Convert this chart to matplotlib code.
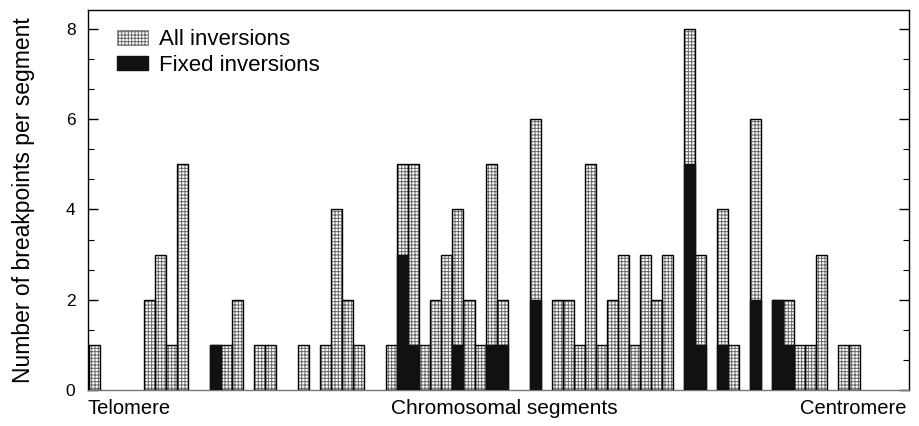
import matplotlib
matplotlib.use("Agg")
import matplotlib.pyplot as plt
from matplotlib.patches import Patch
from matplotlib.ticker import MultipleLocator

plt.rcParams['font.family'] = ['Liberation Sans', 'DejaVu Sans']
plt.rcParams['hatch.linewidth'] = 0.7

# segment index along the chromosome (telomere -> centromere)
segments = [0, 5, 6, 7, 8, 11, 12, 13, 15, 16, 19, 21, 22, 23, 24,
            27, 28, 29, 30, 31, 32, 33, 34, 35, 36, 37, 40,
            42, 43, 44, 45, 46, 47, 48, 49, 50, 51, 52,
            54, 55, 57, 58, 60, 62, 63, 64, 65, 66, 68, 69]
all_inv = [1, 2, 3, 1, 5, 1, 1, 2, 1, 1, 1, 1, 4, 2, 1,
           1, 5, 5, 1, 2, 3, 4, 2, 1, 5, 2, 6,
           2, 2, 1, 5, 1, 2, 3, 1, 3, 2, 3,
           8, 3, 4, 1, 6, 2, 2, 1, 1, 3, 1, 1]
fixed_inv = [0, 0, 0, 0, 0, 1, 0, 0, 0, 0, 0, 0, 0, 0, 0,
             0, 3, 1, 0, 0, 0, 1, 0, 0, 1, 1, 2,
             0, 0, 0, 0, 0, 0, 0, 0, 0, 0, 0,
             5, 1, 1, 0, 2, 2, 1, 0, 0, 0, 0, 0]

fig = plt.figure(figsize=(9.2, 4.26), dpi=100)
ax = fig.add_axes([88/920, 36/426, 821/920, 380/426])

hatch = '+++++'
hatch_col = '#6a6a6a'
# hatched "all inversions" bars
ax.bar(segments, all_inv, width=1.0, facecolor='white', edgecolor=hatch_col,
       hatch=hatch, linewidth=0, zorder=2)
ax.bar(segments, all_inv, width=1.0, facecolor='none', edgecolor='black',
       linewidth=1.0, zorder=3)
# black "fixed inversions" bars
ax.bar(segments, fixed_inv, width=1.0, facecolor='#111111', edgecolor='#111111',
       linewidth=1.0, zorder=4)

ax.set_xlim(-0.55, 73.9)
ax.set_ylim(0, 8.42)
ax.set_xticks([])
ax.yaxis.set_major_locator(MultipleLocator(2))
ax.yaxis.set_minor_locator(MultipleLocator(2/3))
ax.tick_params(axis='y', which='both', direction='in', left=True, right=True,
               labelsize=12.5)
ax.tick_params(axis='y', which='major', length=7, width=1, pad=9)
ax.tick_params(axis='y', which='minor', length=4, width=0.8)
for s in ax.spines.values():
    s.set_linewidth(1.0)
ax.spines['bottom'].set_color('#777777')

ax.set_ylabel('Number of breakpoints per segment', fontsize=16.5, labelpad=22)

ax.text(0.0, -0.05, 'Telomere', transform=ax.transAxes, ha='left', va='center', fontsize=14.5)
ax.text(0.507, -0.05, 'Chromosomal segments', transform=ax.transAxes, ha='center', va='center', fontsize=15)
ax.text(0.997, -0.05, 'Centromere', transform=ax.transAxes, ha='right', va='center', fontsize=14.5)

h_all = Patch(facecolor='white', edgecolor=hatch_col, hatch=hatch, linewidth=0.5)
h_fix = Patch(facecolor='#111111', edgecolor='#111111')
ax.legend([h_all, h_fix], ['All inversions', 'Fixed inversions'], loc='upper left',
          frameon=False, fontsize=16, handlelength=1.4, handleheight=0.6,
          borderaxespad=0.3, bbox_to_anchor=(0.016, 0.99), labelspacing=0.2,
          handletextpad=0.5)

fig.savefig('out.png', dpi=100)
